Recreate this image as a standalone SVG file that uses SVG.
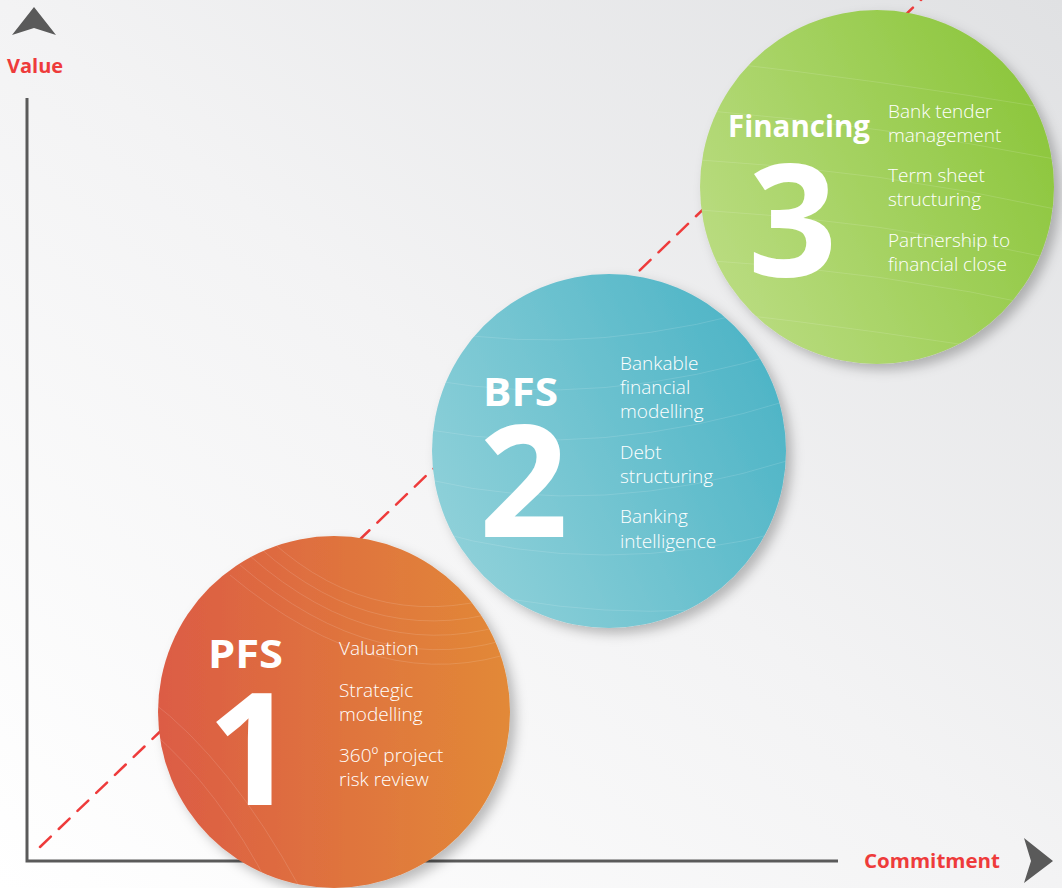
<svg xmlns="http://www.w3.org/2000/svg" width="1062" height="888" viewBox="0 0 1062 888">
<style>
.ax{stroke:#5a5a5a;stroke-width:3;fill:none}
.head{fill:#5a5a5a}
.axl{font-family:"Open Sans","Liberation Sans",sans-serif;font-weight:700;fill:#ee3b3b}
.dash{stroke:#ee3b3b;stroke-width:2.5;stroke-dasharray:15 11;fill:none;stroke-linecap:round}
.ttl{font-family:"Open Sans","Liberation Sans",sans-serif;font-weight:700;fill:#fff}
.num{font-family:"Open Sans","Liberation Sans",sans-serif;font-weight:700;fill:#fff;font-size:156px}
.bd{font-family:"Open Sans","Liberation Sans",sans-serif;font-weight:300;fill:#fff;font-size:19px}
.sw{fill:none;stroke:#fff;stroke-opacity:0.13;stroke-width:1}
</style>
<defs>
<linearGradient id="bg" x1="0" y1="1" x2="1" y2="0">
<stop offset="0" stop-color="#ffffff"/>
<stop offset="0.5" stop-color="#f3f3f4"/>
<stop offset="1" stop-color="#e0e1e3"/>
</linearGradient>
<linearGradient id="g1" x1="0" y1="0" x2="1" y2="0">
<stop offset="0" stop-color="#dc5c45"/>
<stop offset="1" stop-color="#e28937"/>
</linearGradient>
<linearGradient id="g2" x1="0" y1="0.8" x2="1" y2="0.3">
<stop offset="0" stop-color="#92d2da"/>
<stop offset="1" stop-color="#4db4c6"/>
</linearGradient>
<linearGradient id="g3" x1="0" y1="0.8" x2="1" y2="0.3">
<stop offset="0" stop-color="#bcdd84"/>
<stop offset="1" stop-color="#8cc63c"/>
</linearGradient>
<filter id="sh" x="-20%" y="-20%" width="150%" height="150%">
<feDropShadow dx="6" dy="6" stdDeviation="6" flood-color="#000" flood-opacity="0.25"/>
</filter>
<clipPath id="c1"><circle cx="334" cy="712" r="176"/></clipPath>
<clipPath id="c2"><circle cx="609" cy="451" r="177"/></clipPath>
<clipPath id="c3"><circle cx="877" cy="187" r="177"/></clipPath>
</defs>
<rect width="1062" height="888" fill="url(#bg)"/>

<g id="connectors">
<path class="dash" d="M40 847 L925 -4"/>
</g>

<g id="axes">
<path class="ax" d="M27 98 V861 H838"/>
<path class="head" d="M34 7 L56 35 L34 28 L12 35 Z"/>
<path class="head" d="M1024 838 L1053 861 L1024 883 L1031 861 Z"/>
<text class="axl" x="7" y="73" font-size="20">Value</text>
<text class="axl" x="864" y="868" font-size="19.5" textLength="136" lengthAdjust="spacingAndGlyphs">Commitment</text>
</g>

<g id="node-pfs">
<circle cx="334" cy="712" r="176" fill="url(#g1)" filter="url(#sh)"/>
<g clip-path="url(#c1)">
<path class="sw" d="M270 540 Q380 640 520 590"/>
<path class="sw" d="M260 548 Q380 655 520 605"/>
<path class="sw" d="M250 556 Q380 670 520 620"/>
<path class="sw" d="M240 565 Q380 685 520 635"/>
<path class="sw" d="M230 575 Q380 700 520 650"/>
<path class="sw" d="M150 700 Q230 760 300 888"/>
<path class="sw" d="M150 730 Q220 790 270 888"/>
</g>
<text class="ttl" x="208" y="668" font-size="39" textLength="75" lengthAdjust="spacingAndGlyphs">PFS</text>
<text class="num" x="207" y="805">1</text>
<text class="bd" x="339" y="655">Valuation</text>
<text class="bd" x="339" y="697">Strategic</text>
<text class="bd" x="339" y="721">modelling</text>
<text class="bd" x="339" y="762">360º project</text>
<text class="bd" x="339" y="786">risk review</text>
</g>

<g id="node-bfs">
<circle cx="609" cy="451" r="177" fill="url(#g2)" filter="url(#sh)"/>
<g clip-path="url(#c2)">
<path class="sw" d="M430 330 Q600 360 790 300"/>
<path class="sw" d="M430 380 Q600 410 790 350"/>
<path class="sw" d="M430 430 Q600 460 790 400"/>
<path class="sw" d="M430 480 Q600 520 790 460"/>
<path class="sw" d="M430 530 Q600 580 790 530"/>
<path class="sw" d="M430 580 Q600 630 790 600"/>
</g>
<text class="ttl" x="483" y="406" font-size="40" textLength="75" lengthAdjust="spacingAndGlyphs">BFS</text>
<text class="num" x="479" y="537">2</text>
<text class="bd" x="620" y="370">Bankable</text>
<text class="bd" x="620" y="394">financial</text>
<text class="bd" x="620" y="418">modelling</text>
<text class="bd" x="620" y="459">Debt</text>
<text class="bd" x="620" y="483">structuring</text>
<text class="bd" x="620" y="523">Banking</text>
<text class="bd" x="620" y="548">intelligence</text>
</g>

<g id="node-financing">
<circle cx="877" cy="187" r="177" fill="url(#g3)" filter="url(#sh)"/>
<g clip-path="url(#c3)">
<path class="sw" d="M700 60 Q880 80 1060 110"/>
<path class="sw" d="M700 110 Q880 125 1060 160"/>
<path class="sw" d="M700 160 Q880 170 1060 210"/>
<path class="sw" d="M700 210 Q880 220 1060 260"/>
<path class="sw" d="M700 260 Q880 270 1060 310"/>
<path class="sw" d="M700 310 Q880 330 1060 360"/>
</g>
<text class="ttl" x="728" y="137" font-size="30" textLength="142" lengthAdjust="spacingAndGlyphs">Financing</text>
<text class="num" x="748" y="276">3</text>
<text class="bd" x="888" y="118">Bank tender</text>
<text class="bd" x="888" y="142">management</text>
<text class="bd" x="888" y="182">Term sheet</text>
<text class="bd" x="888" y="206">structuring</text>
<text class="bd" x="888" y="247">Partnership to</text>
<text class="bd" x="888" y="271">financial close</text>
</g>
</svg>
